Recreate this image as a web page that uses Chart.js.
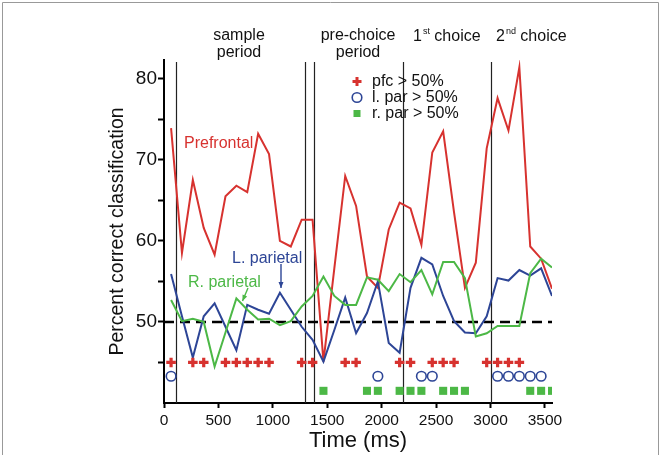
<!DOCTYPE html>
<html>
<head>
<meta charset="utf-8">
<script src="https://cdn.jsdelivr.net/npm/chart.js@4.4.1/dist/chart.umd.min.js"></script>
<style>
    html, body { margin: 0; padding: 0; background: #fff; }
    #wrap { position: relative; width: 662px; height: 455px; }
</style>
</head>
<body>
<div id="wrap"><canvas id="chart" width="662" height="455"></canvas></div>
<script>
// time bins (ms), one per classifier window
const times = [65, 165, 265, 365, 465, 565, 665, 765, 865, 965, 1065, 1165,
    1265, 1365, 1465, 1565, 1665, 1765, 1865, 1965, 2065, 2165, 2265, 2365,
    2465, 2565, 2665, 2765, 2865, 2965, 3065, 3165, 3265, 3365, 3465, 3565];

const prefrontal = [73.9, 58.5, 67.5, 61.6, 58.3, 65.5, 66.8, 66.0, 73.2, 70.7, 60.0, 59.3,
    62.6, 62.6, 45.1, 56.6, 68.0, 64.3, 55.6, 54.2, 61.4, 64.7, 64.0, 59.5,
    70.9, 73.5, 63.5, 54.2, 57.3, 71.4, 77.6, 73.6, 81.4, 59.3, 57.8, 54.1];

const leftParietal = [55.9, 50.7, 45.6, 50.7, 52.3, 49.4, 46.5, 52.1, 51.5, 51.0, 53.6, 51.5,
    49.4, 47.8, 45.1, 49.0, 53.0, 48.6, 51.1, 55.0, 47.4, 46.2, 54.2, 57.9,
    57.1, 53.2, 50.1, 48.7, 48.6, 50.7, 55.4, 55.1, 56.4, 55.7, 56.6, 53.2];

const rightParietal = [52.7, 50.1, 50.4, 50.0, 44.5, 48.7, 52.9, 51.5, 50.3, 50.4, 49.6, 50.1,
    51.9, 53.2, 55.6, 53.2, 52.1, 52.1, 55.5, 55.2, 53.8, 55.9, 54.9, 56.4,
    53.4, 57.4, 57.4, 55.4, 48.2, 48.6, 49.5, 49.5, 49.5, 56.0, 57.8, 56.7];

// bins where each area is significantly above chance (indices into times)
const pfcSig = [0, 2, 3, 5, 6, 7, 8, 9, 12, 13, 16, 17, 21, 22, 24, 25, 26, 29, 30, 31, 32];
const lparSig = [0, 19, 23, 24, 30, 31, 32, 33, 34];
const rparSig = [14, 18, 19, 21, 22, 23, 25, 26, 27, 33, 34, 35];

// rows where the significance markers sit
const pfcRow = 45;
const lparRow = 43.3;
const rparRow = 41.5;

const chance = 50;
const eventTimes = [110, 1300, 1375, 2200, 3000];

const xTicks = [0, 500, 1000, 1500, 2000, 2500, 3000, 3500];
const yTicks = [45, 50, 55, 60, 65, 70, 75, 80];
const xMin = 0, xMax = 3565;
const yMin = 40, yMax = 82.3;

const RED = '#d7322f';
const BLUE = '#2d4596';
const GREEN = '#4cb846';
const FONT = '"Liberation Sans", Arial, sans-serif';

const toPoints = (vals) => vals.map((v, i) => ({ x: times[i], y: v }));
const sigPoints = (idx, row) => idx.map(i => ({ x: times[i], y: row }));

const extras = {
    id: 'extras',
    beforeDatasetsDraw(chart) {
        const { ctx, chartArea, scales } = chart;
        ctx.save();
        ctx.strokeStyle = '#222';
        ctx.lineWidth = 1.2;
        eventTimes.forEach(t => {
            const px = Math.round(scales.x.getPixelForValue(t)) + 0.5;
            ctx.beginPath();
            ctx.moveTo(px, chartArea.top + 2);
            ctx.lineTo(px, chartArea.bottom);
            ctx.stroke();
        });
        ctx.restore();
    },
    afterDraw(chart) {
        const { ctx } = chart;
        ctx.save();
        // frame round the figure
        ctx.strokeStyle = '#999';
        ctx.lineWidth = 1;
        ctx.beginPath();
        ctx.moveTo(2.5, 460);
        ctx.lineTo(2.5, 2.5);
        ctx.lineTo(658.5, 2.5);
        ctx.lineTo(658.5, 460);
        ctx.stroke();

        ctx.fillStyle = '#111';
        ctx.font = '16px ' + FONT;
        ctx.textAlign = 'center';
        ctx.textBaseline = 'middle';
        ctx.fillText('sample', 239, 36);
        ctx.fillText('period', 239, 53);
        ctx.fillText('pre-choice', 358, 36);
        ctx.fillText('period', 358, 53);

        // 1st / 2nd choice with superscripts
        const sup = (x, num, suf) => {
            ctx.textAlign = 'left';
            ctx.font = '16px ' + FONT;
            ctx.fillText(num, x, 37);
            let w = ctx.measureText(num).width;
            ctx.font = '9px ' + FONT;
            ctx.fillText(suf, x + w + 1, 32);
            w += ctx.measureText(suf).width + 1;
            ctx.font = '16px ' + FONT;
            ctx.fillText(' choice', x + w, 37);
        };
        sup(413, '1', 'st');
        sup(496, '2', 'nd');

        // legend
        const lx = 357;
        ctx.fillStyle = RED;
        ctx.fillRect(lx - 4.5, 80, 9, 3);
        ctx.fillRect(lx - 1.5, 77, 3, 9);
        ctx.strokeStyle = BLUE;
        ctx.lineWidth = 1.6;
        ctx.beginPath();
        ctx.arc(lx, 97.5, 4.8, 0, Math.PI * 2);
        ctx.stroke();
        ctx.fillStyle = GREEN;
        ctx.fillRect(lx - 3.5, 110, 7, 7);
        ctx.fillStyle = '#111';
        ctx.textAlign = 'left';
        ctx.font = '16px ' + FONT;
        ctx.fillText('pfc > 50%', 372, 82);
        ctx.fillText('l. par > 50%', 372, 98);
        ctx.fillText('r. par > 50%', 372, 114);

        // series labels
        ctx.fillStyle = RED;
        ctx.fillText('Prefrontal', 184, 144);
        ctx.fillStyle = BLUE;
        ctx.fillText('L. parietal', 232, 259);
        ctx.fillStyle = GREEN;
        ctx.fillText('R. parietal', 188, 283);

        // arrows
        const arrow = (x1, y1, x2, y2, color) => {
            ctx.strokeStyle = color;
            ctx.fillStyle = color;
            ctx.lineWidth = 1.4;
            ctx.beginPath();
            ctx.moveTo(x1, y1);
            ctx.lineTo(x2, y2);
            ctx.stroke();
            const a = Math.atan2(y2 - y1, x2 - x1);
            ctx.beginPath();
            ctx.moveTo(x2, y2);
            ctx.lineTo(x2 - 6 * Math.cos(a) + 2.5 * Math.sin(a), y2 - 6 * Math.sin(a) - 2.5 * Math.cos(a));
            ctx.lineTo(x2 - 6 * Math.cos(a) - 2.5 * Math.sin(a), y2 - 6 * Math.sin(a) + 2.5 * Math.cos(a));
            ctx.closePath();
            ctx.fill();
        };
        arrow(281, 264, 281, 288, BLUE);
        arrow(248, 288, 242.5, 301, GREEN);
        ctx.restore();
    },
};

new Chart(document.getElementById('chart'), {
    type: 'line',
    data: {
        datasets: [
            {
                data: toPoints(prefrontal),
                borderColor: RED,
                borderWidth: 2,
                pointRadius: 0,
                tension: 0,
                order: 3,
            },
            {
                data: toPoints(leftParietal),
                borderColor: BLUE,
                borderWidth: 2,
                pointRadius: 0,
                tension: 0,
                order: 2,
            },
            {
                data: toPoints(rightParietal),
                borderColor: GREEN,
                borderWidth: 2,
                pointRadius: 0,
                tension: 0,
                order: 1,
            },
            {
                data: [{ x: xMin, y: chance }, { x: xMax, y: chance }],
                borderColor: '#000',
                borderWidth: 2.5,
                borderDash: [10, 6],
                pointRadius: 0,
                order: 4,
            },
            {
                data: sigPoints(pfcSig, pfcRow),
                showLine: false,
                pointStyle: 'cross',
                pointRadius: 4.8,
                borderWidth: 3.2,
                borderColor: RED,
                order: 0,
            },
            {
                data: sigPoints(lparSig, lparRow),
                showLine: false,
                pointStyle: 'circle',
                pointRadius: 4.8,
                borderWidth: 1.6,
                borderColor: BLUE,
                backgroundColor: 'rgba(255,255,255,0)',
                order: 0,
            },
            {
                data: sigPoints(rparSig, rparRow),
                showLine: false,
                pointStyle: 'rect',
                pointRadius: 5.7,
                borderWidth: 0,
                backgroundColor: GREEN,
                borderColor: GREEN,
                order: 0,
            },
        ],
    },
    options: {
        responsive: false,
        animation: false,
        events: [],
        layout: { padding: { left: 0, top: 60, right: 110, bottom: 0 } },
        plugins: {
            legend: { display: false },
            tooltip: { enabled: false },
        },
        scales: {
            x: {
                type: 'linear',
                min: xMin,
                max: xMax,
                afterBuildTicks: (scale) => { scale.ticks = xTicks.map(v => ({ value: v })); },
                afterFit: (scale) => { scale.height = 52; },
                grid: { drawOnChartArea: false, tickLength: 5, tickColor: '#000', tickWidth: 2 },
                border: { color: '#000', width: 2 },
                ticks: {
                    color: '#111',
                    font: { family: FONT, size: 15.5 },
                    padding: 3,
                    maxRotation: 0,
                    callback: (v) => String(v),
                },
                title: {
                    display: true,
                    text: 'Time (ms)',
                    color: '#111',
                    font: { family: FONT, size: 22 },
                    padding: { top: 0, bottom: 1 },
                },
            },
            y: {
                min: yMin,
                max: yMax,
                afterBuildTicks: (scale) => { scale.ticks = yTicks.map(v => ({ value: v })); },
                afterFit: (scale) => { scale.width = 164; },
                grid: { drawOnChartArea: false, tickLength: 6, tickColor: '#000', tickWidth: 2 },
                border: { color: '#000', width: 2 },
                ticks: {
                    color: '#111',
                    font: { family: FONT, size: 19 },
                    padding: 1,
                    callback: (v) => (v % 10 === 0 ? String(v) : ''),
                },
                title: {
                    display: true,
                    text: 'Percent correct classification',
                    color: '#111',
                    font: { family: FONT, size: 19.5 },
                    padding: { top: 106, bottom: 0 },
                },
            },
        },
    },
    plugins: [extras],
});
</script>
</body>
</html>
